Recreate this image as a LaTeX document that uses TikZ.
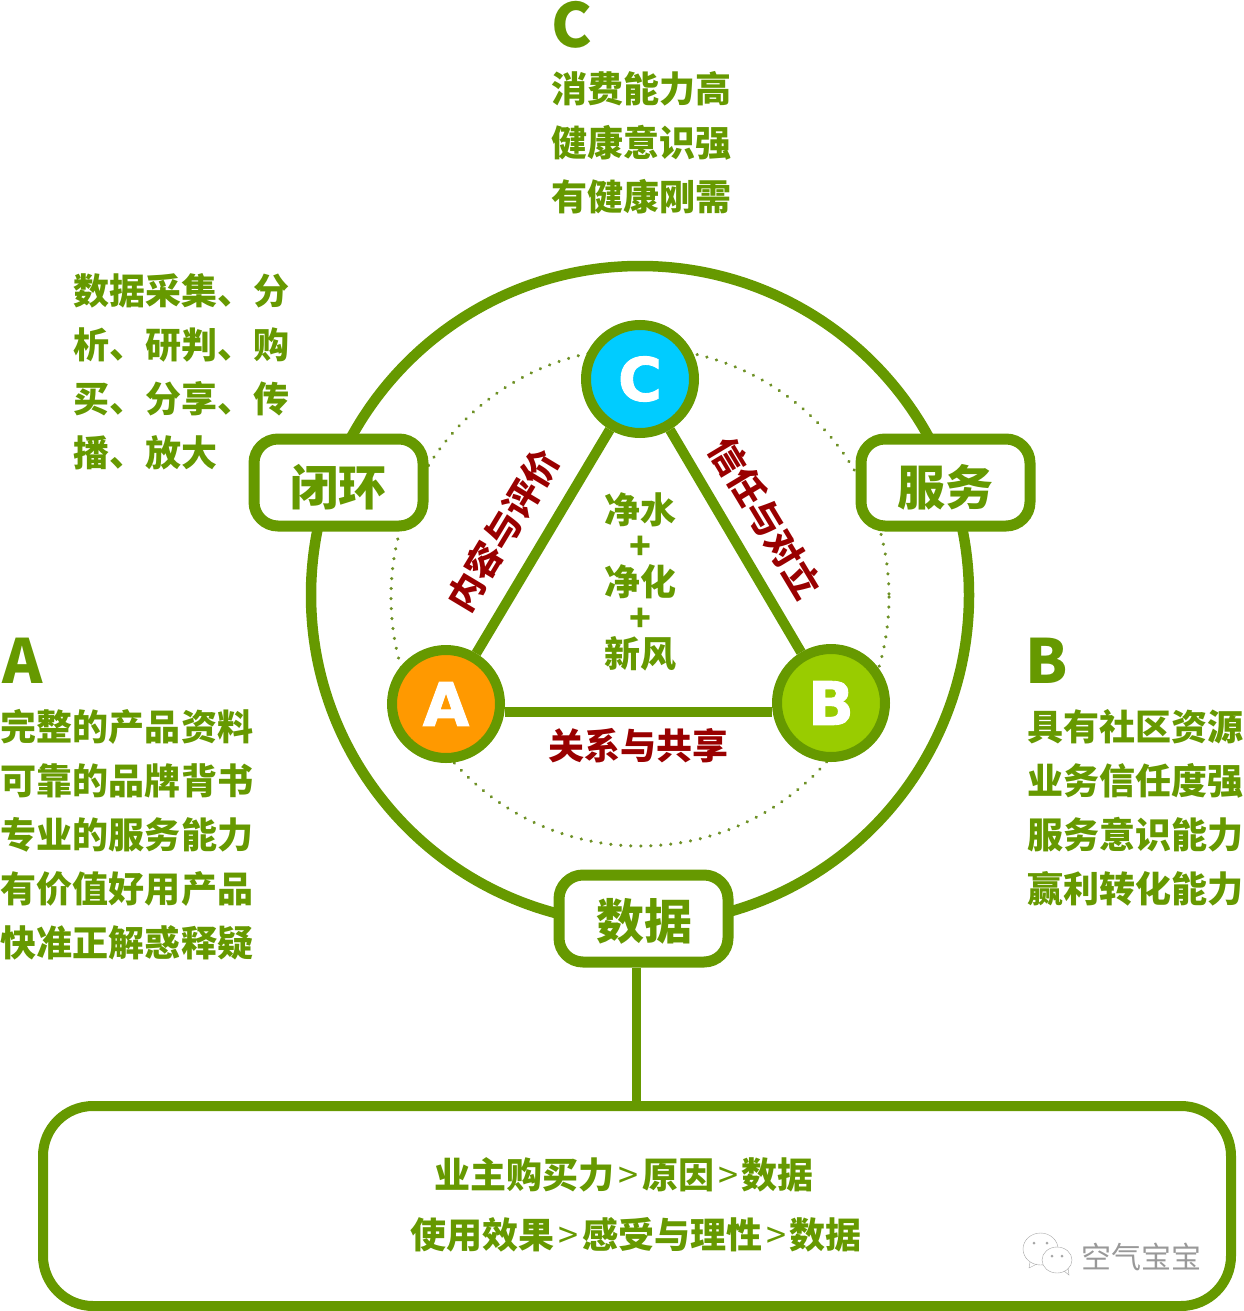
\documentclass[tikz,border=0pt]{standalone}
\usepackage{fontspec}
\setmainfont{Noto Sans CJK SC}
\newfontfamily\lettre[BoldFeatures={FakeBold=1.5}]{DejaVu Sans}
\usepackage{xcolor}
\definecolor{vert}{HTML}{669900}
\definecolor{rouge}{HTML}{990000}
\definecolor{bleuC}{HTML}{00CCFF}
\definecolor{orangeA}{HTML}{FF9900}
\definecolor{vertB}{HTML}{99CC00}
\newcommand{\plusque}{\hspace{4pt}{\mdseries >}\hspace{4pt}}
\tikzset{
    texte/.style={text=vert, inner sep=0pt, align=left, font=\fontsize{36}{54}\selectfont\bfseries},
    lien/.style={text=rouge, inner sep=0pt, font=\fontsize{36}{36}\selectfont\bfseries},
    boite/.style={draw=vert, fill=white, line width=11pt, rounded corners=24pt, minimum width=169pt, minimum height=87pt, inner sep=0pt},
    mot/.style={text=vert, inner sep=0pt, font=\fontsize{48}{48}\selectfont\bfseries},
    rond/.style={circle, draw=vert, line width=10pt, minimum size=108pt, inner sep=0pt, text=white, font=\fontsize{60}{60}\selectfont\lettre\bfseries},
    tete/.style={text=vert, inner sep=0pt, font=\fontsize{61}{61}\selectfont\bfseries},
}
\begin{document}
\begin{tikzpicture}[x=1pt, y=-1pt]
    \useasboundingbox (0,0) rectangle (1243,1311);
    %grand cercle
    \draw[vert, line width=10.5pt] (640,595) circle(329);
    %cercle en pointillé
    \draw[vert!70!gray, line width=3.5pt, line cap=round, dash pattern=on 0.01pt off 10pt] (640,597) circle(249);
    %boites
    \node[boite] (boxLoop) at (338.5,482.5) {};
    \node[boite] (boxService) at (945.5,482.5) {};
    \node[boite] (boxData) at (643.5,918.5) {};
    \node[mot] (motLoop) at (338,487) {闭环};
    \node[mot] (motService) at (945,487) {服务};
    \node[mot] (motData) at (644,921) {数据};
    %ronds
    \node[rond, fill=bleuC] (circC) at (640,379) {C};
    \node[rond, fill=orangeA] (circA) at (446,704) {A};
    \node[rond, fill=vertB] (circB) at (831,703) {B};
    %triangle
    \draw[vert, line width=10pt] (circA) -- (circC);
    \draw[vert, line width=10pt] (circC) -- (circB);
    \draw[vert, line width=10pt] ([yshift=-8pt]circA.east) -- ([yshift=-8pt]circA.east -| circB.west);
    %liens
    \node[lien, rotate=59] (lienAC) at (503,530) {内容与评价};
    \node[lien, rotate=-59] (lienCB) at (766,518) {信任与对立};
    \node[lien] (lienAB) at (638,746) {关系与共享};
    %centre
    \node[texte, align=center, font=\fontsize{36}{36}\selectfont\bfseries] (centre) at (640,582) {净水\\+\\净化\\+\\新风};
    %titres et listes
    \node[tete] (titreC) at (572,25) {C};
    \node[texte] (listeC) at (641,143) {消费能力高\\健康意识强\\有健康刚需};
    \node[texte] (listeLoop) at (181,372) {数据采集、分\\析、研判、购\\买、分享、传\\播、放大};
    \node[tete] (titreA) at (23,661) {A};
    \node[texte] (listeA) at (127,835) {完整的产品资料\\可靠的品牌背书\\专业的服务能力\\有价值好用产品\\快准正解惑释疑};
    \node[tete] (titreB) at (1047,661) {B};
    \node[texte] (listeB) at (1135,808) {具有社区资源\\业务信任度强\\服务意识能力\\赢利转化能力};
    %grande boite
    \node[boite, line width=10pt, rounded corners=50pt, minimum width=1188pt, minimum height=200pt, fill=none] (bigBox) at (637,1206) {};
    \draw[vert, line width=9pt] ([xshift=-7pt]boxData.south) -- ([xshift=-7pt]boxData.south |- bigBox.north);
    \node[texte] (ligneUn) at (624,1175) {业主购买力\plusque 原因\plusque 数据};
    \node[texte] (ligneDeux) at (636,1235) {使用效果\plusque 感受与理性\plusque 数据};
    %filigrane
    \draw[gray!70, fill=white] (1040.5,1249) ellipse(17.5 and 16);
    \draw[gray!70] (1030,1262) -- (1029,1268) -- (1037,1264);
    \draw[gray!70, fill=white] (1057,1260) ellipse(15 and 13);
    \draw[gray!70] (1064,1271) -- (1069,1275) -- (1068,1268);
    \fill[gray!70] (1034,1243) circle(1.5) (1047,1243) circle(1.5) (1052,1256) circle(1.5) (1062,1256) circle(1.5);
    \node[inner sep=0pt, text=gray!80, font=\fontsize{30}{30}\selectfont] (marque) at (1141,1257) {空气宝宝};
\end{tikzpicture}
\end{document}
